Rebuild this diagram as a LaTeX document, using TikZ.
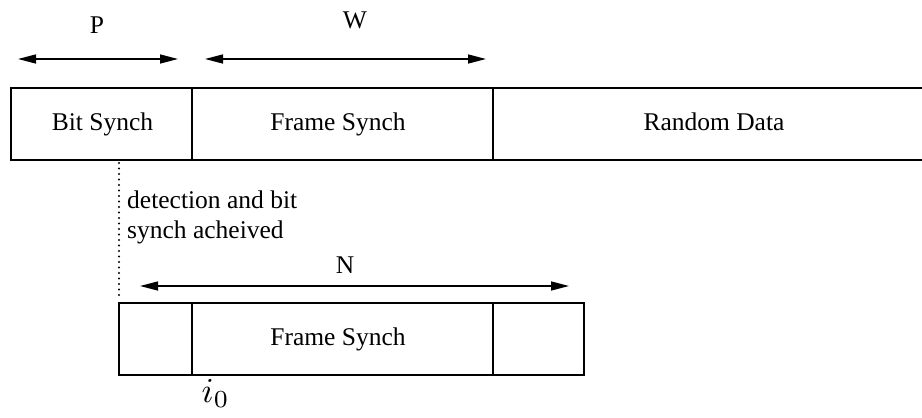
\documentclass[tikz,border=0pt]{standalone}
\usepackage{fontspec}
\setmainfont{Liberation Serif}
\usetikzlibrary{arrows.meta}
\begin{document}
\begin{tikzpicture}[x=1pt,y=-1pt,
  lbl/.style={font=\fontsize{25.5}{30}\selectfont, inner sep=0pt, text height=17pt, text depth=5pt},
  seg/.style={draw, line width=1.6pt, minimum height=72pt, inner sep=0pt, outer sep=0pt, lbl},
  dimarrow/.style={line width=1.4pt, {Triangle[length=18pt,width=9pt]}-{Triangle[length=18pt,width=9pt]}},
  dotline/.style={line width=2.2pt, line cap=round, dash pattern=on 0pt off 5.5pt}]
\useasboundingbox (0,0) rectangle (922,418);
% top row
\node[seg, minimum width=181pt] (bit) at (101.5,124) {\hspace*{2pt}Bit Synch};
\node[seg, minimum width=301pt] (frame) at (342.5,124) {\hspace*{-9pt}Frame Synch};
\node[lbl] (random) at (714,124) {Random Data};
\coordinate (rt) at (922,88);
\coordinate (rb) at (922,160);
\draw[line width=1.6pt] (rt) -- (frame.north east) (frame.south east) -- (rb);
% dimension arrows
\coordinate (pl) at (18,59);
\coordinate (pr) at (178,59);
\coordinate (wl) at (205,59);
\coordinate (wr) at (486,59);
\draw[dimarrow] (pl) -- (pr);
\draw[dimarrow] (wl) -- (wr);
\node[lbl] (P) at (97,27) {P};
\node[lbl] (W) at (355,22) {W};
% dotted marker
\coordinate (dt) at (119,163);
\coordinate (db) at (119,297);
\draw[dotline] (dt) -- (db);
\node[lbl, anchor=base west] (det1) at (127,208) {detection and bit};
\node[lbl, anchor=base west] (det2) at (127,238) {synch acheived};
% bottom row
\node[seg, minimum width=73pt] (b1) at (155.5,339) {};
\node[seg, minimum width=301pt] (b2) at (342.5,339) {\hspace*{-9pt}Frame Synch};
\node[seg, minimum width=91pt] (b3) at (538.5,339) {};
\coordinate (nl) at (140,286);
\coordinate (nr) at (569,286);
\draw[dimarrow] (nl) -- (nr);
\node[lbl] (N) at (345,267) {N};
\node[scale=3.5, inner sep=0pt, anchor=base west] (i0) at (201,402) {$i_0$};
\end{tikzpicture}
\end{document}
